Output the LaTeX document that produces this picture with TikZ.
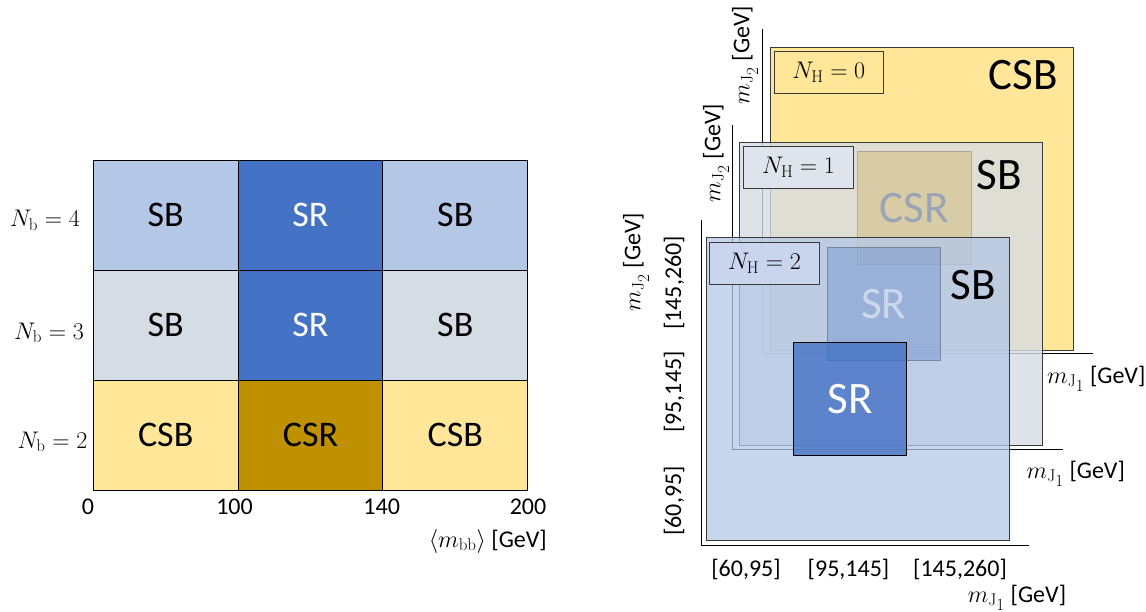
\RequirePackage{fix-cm}
\documentclass[tikz,border=0pt]{standalone}
\usepackage[no-math]{fontspec}
\setmainfont{Carlito}
\DeclareMathSizes{24}{24}{17}{14}
\definecolor{sbblue}{HTML}{B4C7E7}
\definecolor{srblue}{HTML}{4472C4}
\definecolor{sbgray}{HTML}{D6DCE5}
\definecolor{csbyel}{HTML}{FFE699}
\definecolor{csrgold}{HTML}{BF9000}
\definecolor{edgec}{HTML}{3A3A3A}
\definecolor{nhone}{HTML}{DFE3EB}
\definecolor{nhtwo}{HTML}{C8D5EC}
\definecolor{csrtext}{HTML}{9BA4B6}
\newcommand\mjone{$m_{\mathrm{J}_{\scriptstyle 1}}$}
\newcommand\mjtwo{$m_{\mathrm{J}_{\scriptstyle 2}}$}
\begin{document}
\begin{tikzpicture}[x=1pt,y=-1pt,
  cell/.style={draw=black, line width=0.9pt, minimum width=144.8pt, minimum height=110pt, inner sep=0pt, font=\fontsize{36}{40}\selectfont},
  lbl/.style={inner sep=0pt, font=\fontsize{24}{28}\selectfont},
  big/.style={inner sep=0pt, font=\fontsize{45}{50}\selectfont},
  panel/.style={draw=edgec, line width=0.9pt, minimum width=303pt, minimum height=303pt, inner sep=0pt, anchor=north west},
  nhbox/.style={draw=edgec, line width=0.9pt, minimum width=109.4pt, minimum height=42pt, inner sep=0pt, anchor=north west, font=\fontsize{24}{28}\selectfont},
  sq/.style={line width=0.9pt, minimum width=113.4pt, minimum height=113.4pt, inner sep=0pt, anchor=north west, font=\fontsize{45}{50}\selectfont},
  axis/.style={line width=0.8pt, draw=black}]
\useasboundingbox (0,0) rectangle (1146,612);

% ---------------- left grid ----------------
\node[cell, fill=sbblue] (c41) at (165.7,215) {SB};
\node[cell, fill=srblue, text=white] (c42) at (310.5,215) {SR};
\node[cell, fill=sbblue] (c43) at (455.3,215) {SB};
\node[cell, fill=sbgray] (c31) at (165.7,325) {SB};
\node[cell, fill=srblue, text=white] (c32) at (310.5,325) {SR};
\node[cell, fill=sbgray] (c33) at (455.3,325) {SB};
\node[cell, fill=csbyel] (c21) at (165.7,435) {CSB};
\node[cell, fill=csrgold] (c22) at (310.5,435) {CSR};
\node[cell, fill=csbyel] (c23) at (455.3,435) {CSB};

\node[lbl, anchor=base east] (nb4) at (80,227) {$N_{\mathrm{b}}=4$};
\node[lbl, anchor=base east] (nb3) at (84,339) {$N_{\mathrm{b}}=3$};
\node[lbl, anchor=base east] (nb2) at (87.5,448) {$N_{\mathrm{b}}=2$};

\node[lbl, anchor=base] (t0) at (88,514) {0};
\node[lbl, anchor=base] (t100) at (234.5,514) {100};
\node[lbl, anchor=base] (t140) at (381.7,514) {140};
\node[lbl, anchor=base] (t200) at (528,514) {200};
\node[lbl, anchor=base east] (mbb) at (547,547) {$\langle m_{\mathrm{bb}}\rangle$ [GeV]};

% ---------------- panel N_H = 0 ----------------
\node[panel, fill=csbyel] (p0) at (769.6,46.7) {};
\node[nhbox, fill=csbyel] (nh0) at (773.7,50.7) {$N_{\mathrm{H}}=0$};
\node[big] (csb0) at (1023,75) {CSB};
\coordinate (a0t) at (762.3,29.3);
\coordinate (a0c) at (762.3,353.3);
\coordinate (a0r) at (1093.3,353.3);
\draw[axis] (a0t) -- (a0c) -- (a0r);
\node[lbl, rotate=90] (y0) at (745,55) {\mjtwo{} [GeV]};
\node[lbl, anchor=base west] (x0) at (1047,383) {\mjone{} [GeV]};

% ---------------- panel N_H = 1 ----------------
\node[panel, fill=sbgray, fill opacity=0.8] (p1) at (739.3,141.7) {};
\node[nhbox, fill=nhone] (nh1) at (743.4,146) {$N_{\mathrm{H}}=1$};
\node[sq, draw=gray, draw opacity=0.5, fill=csrgold, fill opacity=0.22, text opacity=1, text=csrtext] (csr1) at (857.3,150.7) {CSR};
\node[big] (sb1) at (999,175) {SB};
\coordinate (a1t) at (732.3,125);
\coordinate (a1c) at (732.3,449);
\coordinate (a1r) at (1062.7,449);
\draw[axis] (a1t) -- (a1c) -- (a1r);
\node[lbl, rotate=90] (y1) at (716,153) {\mjtwo{} [GeV]};
\node[lbl, anchor=base west] (x1) at (1026.5,478) {\mjone{} [GeV]};

% ---------------- panel N_H = 2 ----------------
\node[panel, fill=sbblue, fill opacity=0.75] (p2) at (705.5,237.3) {};
\node[nhbox, fill=nhtwo] (nh2) at (709.3,241.7) {$N_{\mathrm{H}}=2$};
\node[sq, draw=edgec, draw opacity=0.35, fill=srblue, fill opacity=0.3, text=white, text opacity=0.5] (srl) at (826.7,246.7) {SR};
\node[sq, draw=black, fill=srblue, fill opacity=0.8, text=white, text opacity=1] (srs) at (793,341.7) {SR};
\node[big] (sb2) at (973,285) {SB};
\coordinate (a2t) at (701.7,220);
\coordinate (a2c) at (701.7,545);
\coordinate (a2r) at (1029.3,545);
\draw[axis] (a2t) -- (a2c) -- (a2r);
\node[lbl, rotate=90] (y2) at (636,262) {\mjtwo{} [GeV]};
\node[lbl, rotate=90] (ty3) at (674,283) {[145,260]};
\node[lbl, rotate=90] (ty2) at (674,392) {[95,145]};
\node[lbl, rotate=90] (ty1) at (674,501) {[60,95]};
\node[lbl] (tx1) at (746,569) {[60,95]};
\node[lbl] (tx2) at (848.5,569) {[95,145]};
\node[lbl] (tx3) at (960,569) {[145,260]};
\node[lbl, anchor=base] (x2) at (1017,602) {\mjone{} [GeV]};
\end{tikzpicture}
\end{document}
